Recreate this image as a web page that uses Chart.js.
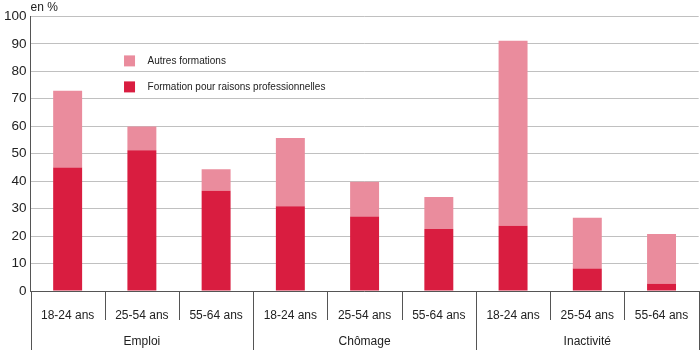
<!DOCTYPE html>
<html>
<head>
<meta charset="utf-8">
<script src="https://cdn.jsdelivr.net/npm/chart.js@4"></script>
<style>
  html, body { margin: 0; padding: 0; background: #fff; }
  #wrap { width: 700px; height: 350px; }
</style>
</head>
<body>
<div id="wrap"><canvas id="myChart"></canvas></div>
<script>
// categories
var ages = ["18-24 ans", "25-54 ans", "55-64 ans",
            "18-24 ans", "25-54 ans", "55-64 ans",
            "18-24 ans", "25-54 ans", "55-64 ans"];
var groups = ["Emploi", "Chômage", "Inactivité"];

// series (en %)
var formationPro = [45, 51.3, 36.5, 30.9, 27.1, 22.6, 23.8, 8.2, 2.6];
var autresFormations = [27.9, 8.6, 7.8, 24.8, 12.7, 11.6, 67.3, 18.5, 18.2];

var dark = "#d91d40";
var light = "#ea8c9d";
var font = '"Liberation Sans", Arial, sans-serif';

// two-line tick labels: age on top, group name under the middle bar of each group
var xLabels = ages.map(function (a, i) {
  return [a, i % 3 === 1 ? groups[(i - 1) / 3] : ""];
});

// legend drawn inside the plot, top item = last dataset
var innerLegend = {
  id: "innerLegend",
  afterDatasetsDraw: function (chart) {
    var ctx = chart.ctx, a = chart.chartArea;
    var items = chart.data.datasets.slice().reverse();
    ctx.save();
    ctx.font = "10px " + font;
    ctx.textBaseline = "middle";
    items.forEach(function (ds, i) {
      var y = a.top + 45 + i * 26;
      ctx.fillStyle = ds.backgroundColor;
      ctx.fillRect(a.left + 93.5, y - 6, 11, 11);
      ctx.fillStyle = "#222";
      ctx.fillText(ds.label, a.left + 117, y);
    });
    ctx.restore();
  }
};

// separators under the x axis: short between ages, long between groups
var separators = {
  id: "separators",
  afterDraw: function (chart) {
    var ctx = chart.ctx, xs = chart.scales.x, a = chart.chartArea;
    ctx.save();
    ctx.strokeStyle = "#555";
    ctx.lineWidth = 1;
    for (var k = 0; k <= ages.length; k++) {
      var px = Math.round(xs.getPixelForValue(k - 0.5)) + 0.5;
      var bottom = (k % 3 === 0) ? chart.height : a.bottom + 29;
      ctx.beginPath();
      ctx.moveTo(px, a.bottom);
      ctx.lineTo(px, bottom);
      ctx.stroke();
    }
    ctx.restore();
  }
};

new Chart("myChart", {
  type: "bar",
  data: {
    labels: xLabels,
    datasets: [{
      label: "Formation pour raisons professionnelles",
      data: formationPro,
      backgroundColor: dark,
      barPercentage: 0.39,
      categoryPercentage: 1
    }, {
      label: "Autres formations",
      data: autresFormations,
      backgroundColor: light,
      barPercentage: 0.39,
      categoryPercentage: 1
    }]
  },
  options: {
    responsive: true,
    maintainAspectRatio: false,
    animation: false,
    layout: { padding: { left: 0, right: 1, top: 0, bottom: -16.4 } },
    plugins: {
      legend: { display: false },
      tooltip: { enabled: false },
      title: {
        display: true,
        fullSize: false,
        text: "en %",
        align: "start",
        color: "#222",
        font: { family: font, size: 12, weight: "normal" },
        padding: { top: 0, bottom: 2 }
      }
    },
    scales: {
      x: {
        stacked: true,
        border: { display: true, color: "#555", width: 1 },
        grid: { display: false, drawTicks: false },
        ticks: { color: "#222", padding: 11.7, autoSkip: false, maxRotation: 0,
                 font: { family: font, size: 12, lineHeight: 26 / 12 } }
      },
      y: {
        stacked: true,
        min: 0,
        max: 100,
        border: { display: true, color: "#555", width: 1 },
        grid: { color: "#c0c0c0", drawTicks: false },
        ticks: { stepSize: 10, color: "#222", padding: 4, font: { family: font, size: 13.5 } }
      }
    }
  },
  plugins: [innerLegend, separators]
});
</script>
</body>
</html>
